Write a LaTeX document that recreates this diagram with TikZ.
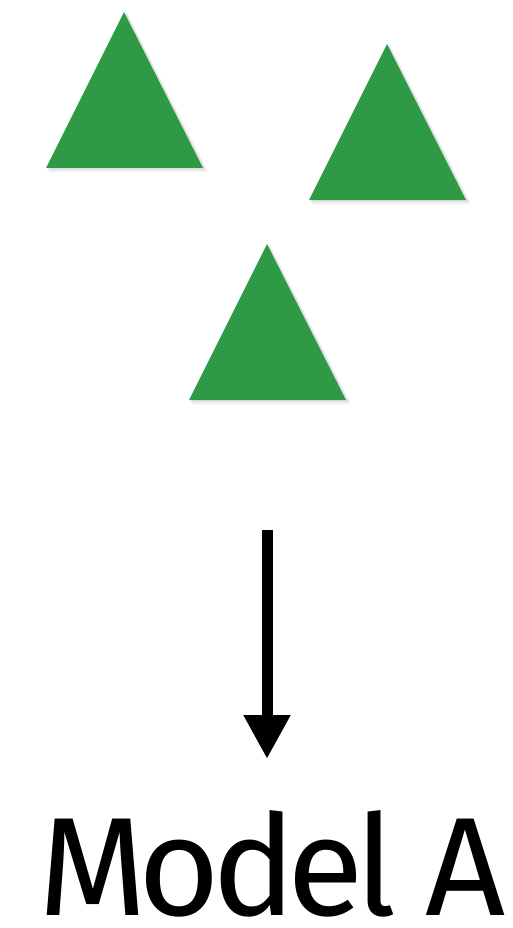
\documentclass[tikz,border=0pt]{standalone}
\usepackage{fontspec}
\setmainfont{Fira Sans}[LetterSpace=-6]
\usetikzlibrary{arrows.meta}
\definecolor{trigreen}{RGB}{47,154,70}
\begin{document}
\begin{tikzpicture}[x=1pt,y=-1pt,
  tri/.style={fill=trigreen},
  trishadow/.style={fill=black,opacity=0.06}]
\useasboundingbox (0,0) rectangle (512,928);
\foreach \ax/\ay in {124/12, 387/44, 267/244}{
  \fill[trishadow] (\ax+3,\ay+1) -- (\ax+84,\ay+160) -- (\ax-76,\ay+160) -- cycle;
  \fill[trishadow] (\ax+2,\ay+1) -- (\ax+82,\ay+158) -- (\ax-77,\ay+158) -- cycle;
  \fill[tri] (\ax,\ay) -- (\ax+79,\ay+156) -- (\ax-78,\ay+156) -- cycle;
}
\coordinate (as) at (267,530);
\coordinate (ae) at (267,759);
\draw[line width=11pt,-{Triangle[length=44pt,width=44pt]}] (as) -- (ae);
\node[anchor=base west,inner sep=0pt,font=\fontsize{140}{150}\selectfont] (lbl) at (38,915) {Model A};
\end{tikzpicture}
\end{document}
